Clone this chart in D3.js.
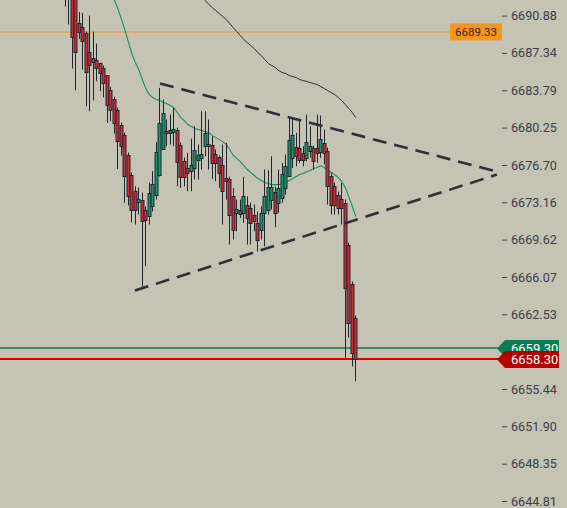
<!DOCTYPE html>
<html><head><meta charset="utf-8">
<script src="https://cdn.jsdelivr.net/npm/d3@7/dist/d3.min.js"></script>
<style>html,body{margin:0;padding:0;background:#c4c3b4;}svg{display:block;}</style>
</head><body><svg id="c" width="567" height="508"></svg>
<script>
const opens = [6693.82,6694.30,6693.16,6692.78,6690.19,6689.81,6689.24,6687.44,6686.87,6686.71,
6686.39,6685.92,6685.22,6683.86,6683.00,6681.96,6680.54,6679.59,6677.69,6675.79,
6674.21,6673.20,6673.42,6672.47,6671.84,6672.85,6673.89,6675.79,6678.23,6679.97,
6679.75,6679.81,6680.06,6678.64,6677.12,6676.43,6676.11,6676.43,6677.22,6677.38,
6678.48,6678.73,6678.64,6677.79,6677.47,6676.74,6675.48,6675.38,6673.73,6672.16,
6672.40,6672.16,6672.95,6672.63,6672.00,6671.24,6670.57,6672.16,6672.47,6673.42,
6674.15,6673.11,6673.58,6674.53,6675.63,6677.38,6678.38,6678.35,6677.88,6677.41,
6678.00,6678.35,6678.35,6677.95,6678.83,6678.07,6675.63,6674.68,6673.89,6673.49,
6673.11,6669.15,6665.42,6662.19];
const highs = [6694.77,6695.06,6693.54,6693.35,6691.23,6691.14,6689.36,6690.88,6689.36,6688.22,
6686.42,6686.14,6685.22,6684.12,6683.19,6682.15,6680.73,6679.78,6677.88,6675.98,
6674.68,6674.56,6674.08,6672.76,6675.03,6676.11,6678.86,6684.02,6682.91,6681.01,
6681.49,6682.12,6680.25,6678.83,6677.41,6677.85,6679.21,6680.38,6678.64,6681.80,
6681.80,6681.01,6679.43,6678.17,6677.60,6678.64,6678.80,6675.60,6674.53,6673.42,
6673.42,6675.57,6673.73,6673.11,6672.95,6672.28,6672.78,6676.27,6676.20,6677.53,
6674.65,6676.27,6676.90,6677.69,6681.33,6681.17,6679.75,6681.01,6678.48,6681.49,
6680.38,6678.54,6681.49,6681.39,6680.06,6678.35,6675.98,6675.03,6674.18,6675.00,
6673.42,6669.34,6665.64,6662.41];
const lows = [6691.74,6690.03,6685.85,6683.79,6688.67,6685.76,6682.27,6681.80,6682.84,6684.65,
6683.70,6683.13,6680.70,6680.85,6679.68,6676.33,6677.60,6673.11,6672.85,6671.24,
6671.05,6672.00,6664.88,6667.09,6671.05,6672.28,6673.42,6675.60,6678.17,6678.48,
6678.64,6678.48,6674.68,6674.53,6674.68,6674.21,6674.21,6675.32,6675.32,6676.27,
6677.53,6676.27,6675.38,6675.16,6674.53,6671.05,6673.42,6669.15,6669.62,6670.41,
6671.68,6671.21,6669.15,6669.15,6670.41,6668.49,6669.62,6668.99,6672.00,6672.47,
6670.79,6672.16,6673.11,6673.89,6675.63,6676.43,6676.58,6676.90,6676.58,6677.05,
6677.41,6676.27,6676.93,6677.38,6676.74,6672.95,6672.00,6672.00,6672.00,6671.05,
6658.40,6660.32,6657.57,6656.18];
const closes = [6692.68,6692.78,6688.82,6687.40,6689.33,6688.48,6685.54,6686.17,6686.49,6685.92,
6685.44,6684.49,6682.41,6681.96,6680.70,6679.02,6678.48,6675.63,6673.73,6672.44,
6672.47,6673.51,6671.36,6671.52,6674.06,6674.94,6677.91,6680.70,6681.65,6679.75,
6680.06,6680.16,6676.96,6675.57,6675.57,6675.95,6676.74,6678.17,6677.69,6677.79,
6679.75,6678.52,6676.90,6676.90,6675.95,6674.21,6675.16,6672.00,6670.57,6672.54,
6672.09,6673.73,6671.68,6671.21,6671.36,6669.62,6672.16,6673.80,6674.63,6674.63,
6672.16,6674.53,6675.89,6676.58,6679.11,6679.59,6677.53,6677.22,6677.22,6678.92,
6678.48,6677.05,6677.85,6679.18,6677.85,6674.68,6672.95,6672.95,6672.63,6672.63,
6665.04,6661.72,6658.87,6658.30];

// fast moving average (green), null where not drawn
const maFast = [null,null,null,null,null,null,null,null,null,null,
null,null,null,6693.63,6692.40,6691.55,6690.60,6689.55,6688.41,6687.28,
6686.42,6685.76,6684.81,6683.95,6683.38,6683.10,6682.91,6682.82,6682.63,6682.53,
6682.34,6682.15,6681.68,6681.20,6680.92,6680.54,6680.35,6680.16,6680.06,6679.97,
6679.87,6679.78,6679.49,6679.30,6679.11,6678.92,6678.64,6678.17,6677.60,6677.31,
6677.03,6676.65,6676.27,6675.98,6675.70,6675.41,6675.22,6675.03,6674.94,6674.84,
6674.84,6674.84,6674.94,6675.03,6675.22,6675.41,6675.60,6675.79,6675.89,6676.08,
6676.17,6676.36,6676.46,6676.65,6676.46,6676.17,6675.98,6675.79,6675.51,6675.13,
6674.56,6673.70,6672.76,6671.81];
// slow moving average (black)
const maSlow = [null,null,null,null,null,null,null,null,null,null,
null,null,null,null,null,null,null,null,null,null,
null,null,null,null,null,null,null,null,null,null,
null,null,null,null,null,null,null,null,6692.97,6692.68,
6692.31,6691.93,6691.64,6691.36,6691.07,6690.79,6690.50,6690.12,6689.74,6689.36,
6688.98,6688.60,6688.32,6688.03,6687.75,6687.37,6687.09,6686.71,6686.33,6686.14,
6685.95,6685.66,6685.47,6685.38,6685.19,6685.09,6685.00,6684.81,6684.71,6684.62,
6684.52,6684.43,6684.33,6684.14,6683.95,6683.76,6683.57,6683.38,6683.10,6682.82,
6682.44,6682.06,6681.68,6681.20];

// triangle trendlines: [barIndex, price]
const upperTrend = [[27.06, 6684.43], [123.3, 6676.08]];
const lowerTrend = [[19.9, 6664.78], [123.3, 6675.79]];

const alertLevel = 6689.33;
const askLevel = 6659.30;
const bidLevel = 6658.30;
const tickValues = [6690.88,6687.34,6683.79,6680.25,6676.70,6673.16,6669.62,6666.07,6662.53,6655.44,6651.90,6648.35,6644.81];

const svg = d3.select('#c');
const x = d3.scaleLinear().domain([0, 100]).range([65.3, 415.3]);
const y = d3.scaleLinear().domain([6644.81, 6690.88]).range([501, 15.6]);

const dark = '#1f272e';
const redC = '#d12a36';
const greenC = '#17996a';

// horizontal level lines
svg.append('line').attr('x1',0).attr('x2',502).attr('y1',y(alertLevel)).attr('y2',y(alertLevel))
  .attr('stroke','#eda24c').attr('stroke-width',1.6);
svg.append('line').attr('x1',0).attr('x2',498).attr('y1',Math.round(y(askLevel))).attr('y2',Math.round(y(askLevel)))
  .attr('stroke','#0f7d50').attr('stroke-width',1.4);
svg.append('line').attr('x1',0).attr('x2',498).attr('y1',Math.round(y(bidLevel))).attr('y2',Math.round(y(bidLevel)))
  .attr('stroke','#e00000').attr('stroke-width',1.8);

// moving averages
const lineGen = d3.line().defined(d => d != null).x((d,i) => x(i)).y(d => y(d));
svg.append('path').datum(maSlow).attr('d', lineGen).attr('fill','none').attr('stroke','#2a2d30').attr('stroke-width',1);
svg.append('path').datum(maFast).attr('d', lineGen).attr('fill','none').attr('stroke','#1a8f5e').attr('stroke-width',1.1);

// candles
const g = svg.append('g');
opens.forEach((o, i) => {
  const c = closes[i], h = highs[i], l = lows[i];
  const cx = Math.floor(x(i)) + 0.5;
  g.append('line').attr('x1',cx).attr('x2',cx).attr('y1',y(h)).attr('y2',y(l))
    .attr('stroke',dark).attr('stroke-width',1);
  const top = Math.round(y(Math.max(o,c)));
  const bot = Math.round(y(Math.min(o,c)));
  g.append('rect').attr('x',cx-1.5).attr('y',top+0.5).attr('width',3).attr('height',Math.max(1,bot-top))
    .attr('fill', c >= o ? greenC : redC).attr('stroke',dark).attr('stroke-width',1);
});

// trendlines
const tl = d3.line().x(d => x(d[0])).y(d => y(d[1]));
[upperTrend, lowerTrend].forEach(t => {
  svg.append('path').attr('d', tl(t)).attr('fill','none').attr('stroke','#2b3137')
    .attr('stroke-width',2.6).attr('stroke-dasharray','14,8');
});

// right axis
const axis = d3.axisRight(y).tickValues(tickValues).tickFormat(d => d.toFixed(2)).tickSize(5).tickPadding(4);
const ag = svg.append('g').attr('transform','translate(502,0)').call(axis);
ag.select('.domain').remove();
ag.selectAll('line').attr('stroke','#3b4045');
ag.selectAll('text').attr('fill','#3b4045').style('font-family','Roboto, sans-serif').style('font-size','12.6px');

// alert label
const ay = y(alertLevel);
svg.append('rect').attr('x',450).attr('y',ay-8.5).attr('width',52).attr('height',17).attr('fill','#f7941d');
svg.append('text').attr('x',476).attr('y',ay).attr('dy','0.35em').attr('text-anchor','middle')
  .attr('fill','#2b2b2b').style('font-family','Roboto, sans-serif').style('font-size','11.5px').text(alertLevel.toFixed(2));

// price labels
function priceLabel(v, col) {
  const yc = Math.round(y(v)) + 0.5;
  svg.append('path').attr('d', `M497,${yc} L505,${yc-8.5} L559,${yc-8.5} L559,${yc+8.5} L505,${yc+8.5} Z`).attr('fill', col);
  svg.append('text').attr('x',511).attr('y',yc).attr('dy','0.36em').attr('fill','#ffffff')
    .style('font-family','Roboto, sans-serif').style('font-size','13px').text(v.toFixed(2));
}
priceLabel(askLevel, '#0b7d52');
priceLabel(bidLevel, '#b50000');
</script></body></html>
